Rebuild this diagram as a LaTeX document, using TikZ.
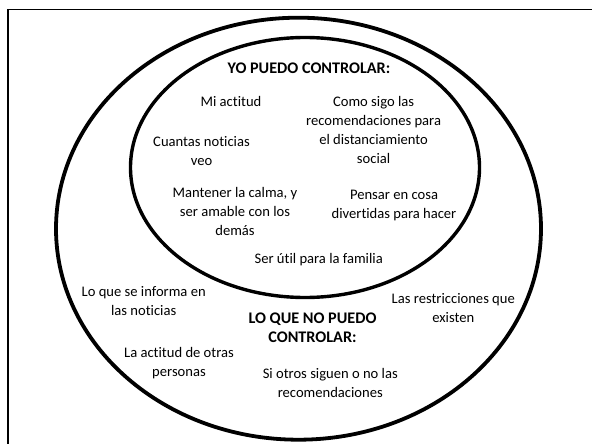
\documentclass[tikz,border=0pt]{standalone}
\usepackage{fontspec}
\setmainfont{Carlito}[Ligatures=NoCommon]
\usepackage{tikz}

\begin{document}
\begin{tikzpicture}[x=1pt,y=-1pt,
    txt/.style={align=center,inner sep=0pt,font=\fontsize{14.6}{19}\selectfont},
    hd/.style={txt,font=\fontsize{16.2}{19}\selectfont\bfseries}]
    \useasboundingbox (0,0) rectangle (592,444);
    \clip (0,0) rectangle (592,444);
    \draw[line width=1.6pt] (600,9.5) -- (8,9.5) -- (8,450);
    \draw[line width=3.8pt] (298.5,228.7) ellipse [x radius=242.5pt, y radius=211pt];
    \draw[line width=3.4pt] (305,167.5) ellipse [x radius=174.5pt, y radius=130pt];
    \node[hd] (YO) at (309,68.5) {YO PUEDO CONTROLAR:};
    \node[txt] (A) at (231,101.5) {Mi actitud};
    \node[txt] (B) at (373.6,130) {Como sigo las\\recomendaciones para\\el distanciamiento\\social};
    \node[txt] (C) at (201.5,151) {Cuantas noticias\\veo};
    \node[txt] (D) at (235,211) {Mantener la calma, y\\ser amable con los\\demás};
    \node[txt] (E) at (394,205) {Pensar en cosa\\divertidas para hacer};
    \node[txt] (F) at (318.7,259.3) {Ser útil para la familia};
    \node[txt] (G) at (143.7,301.5) {Lo que se informa en\\las noticias};
    \node[txt] (H) at (453.3,308) {Las restricciones que\\existen};
    \node[hd] (NO) at (312.5,328) {LO QUE NO PUEDO\\CONTROLAR:};
    \node[txt] (I) at (179,363.5) {La actitud de otras\\personas};
    \node[txt] (J) at (330.3,382.5) {Si otros siguen o no las\\recomendaciones};
\end{tikzpicture}
\end{document}
